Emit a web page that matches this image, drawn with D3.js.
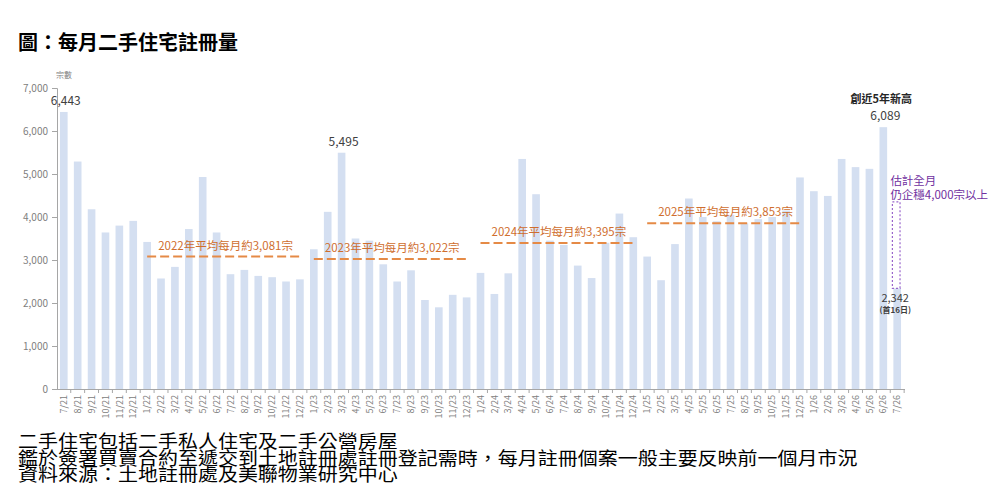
<!DOCTYPE html>
<html>
<head>
<meta charset="utf-8">
<script src="https://cdn.jsdelivr.net/npm/d3@7"></script>
<style>
	body { margin: 0; background: #fff; }
	text { font-family: "Noto Sans CJK TC", "Noto Sans", sans-serif; }
</style>
</head>
<body>
<script>
// monthly registrations (宗數)
const months = [
	"7/21","8/21","9/21","10/21","11/21","12/21",
	"1/22","2/22","3/22","4/22","5/22","6/22","7/22","8/22","9/22","10/22","11/22","12/22",
	"1/23","2/23","3/23","4/23","5/23","6/23","7/23","8/23","9/23","10/23","11/23","12/23",
	"1/24","2/24","3/24","4/24","5/24","6/24","7/24","8/24","9/24","10/24","11/24","12/24",
	"1/25","2/25","3/25","4/25","5/25","6/25","7/25","8/25","9/25","10/25","11/25","12/25",
	"1/26","2/26","3/26","4/26","5/26","6/26","7/26"
];
const counts = [
	6443, 5290, 4180, 3640, 3800, 3910,
	3420, 2570, 2840, 3720, 4930, 3640, 2670, 2770, 2630, 2600, 2500, 2550,
	3250, 4120, 5495, 3500, 3450, 2900, 2500, 2760, 2070, 1900, 2190, 2130,
	2700, 2210, 2690, 5350, 4530, 3450, 3350, 2870, 2580, 3400, 4080, 3530,
	3080, 2530, 3370, 4430, 4000, 3900, 4050, 3850, 3950, 4000, 4150, 4920,
	4600, 4490, 5350, 5160, 5120, 6089, 2342
];
const yTicks = [0, 1000, 2000, 3000, 4000, 5000, 6000, 7000];

// yearly averages
const avgYears = ["2022", "2023", "2024", "2025"];
const avgValues = [3081, 3022, 3395, 3853];
const avgFrom = ["1/22", "1/23", "1/24", "1/25"];
const avgTo = ["12/22", "12/23", "12/24", "12/25"];

// labelled bars
const labelled = ["7/21", "3/23", "6/26"];
const estimateFull = 4350;

const footnotes = [
	"二手住宅包括二手私人住宅及二手公營房屋",
	"鑑於簽署買賣合約至遞交到土地註冊處註冊登記需時，每月註冊個案一般主要反映前一個月市況",
	"資料來源：土地註冊處及美聯物業研究中心"
];

const W = 1002, H = 501;
const svg = d3.select("body").append("svg")
	.attr("width", W)
	.attr("height", H)
	.style("background-color", "white");

svg.append("text")
	.attr("x", 18)
	.attr("y", 50)
	.attr("font-size", 20)
	.attr("font-weight", "bold")
	.attr("fill", "#000")
	.text("圖：每月二手住宅註冊量");

const x = d3.scaleBand()
	.domain(months)
	.range([56.5, 904.5])
	.paddingInner(0.45)
	.paddingOuter(0.25);

const y = d3.scaleLinear()
	.domain([0, 7000])
	.range([389, 88]);

const grey = "#808080";

// bars
svg.append("g").selectAll("rect")
	.data(months)
	.join("rect")
	.attr("x", d => x(d))
	.attr("width", x.bandwidth())
	.attr("y", (d, i) => y(counts[i]))
	.attr("height", (d, i) => y(0) - y(counts[i]))
	.attr("fill", "#D4DFF1");

// y axis
const yAxis = svg.append("g")
	.attr("transform", "translate(57,0)")
	.call(d3.axisLeft(y).tickValues(yTicks).tickFormat(d3.format(",")).tickSize(5).tickSizeOuter(5));
yAxis.select(".domain").attr("stroke", "#a6a6a6");
yAxis.selectAll(".tick line").attr("stroke", "#a6a6a6");
yAxis.selectAll(".tick text")
	.attr("fill", grey)
	.attr("font-size", 10)
	.attr("font-family", "Liberation Sans, Arial, sans-serif")
	.attr("x", -9);

svg.append("text")
	.attr("x", 64)
	.attr("y", 78)
	.attr("text-anchor", "middle")
	.attr("font-size", 8)
	.attr("fill", grey)
	.text("宗數");

// x axis
const xAxis = svg.append("g")
	.attr("transform", `translate(0,${y(0)})`)
	.call(d3.axisBottom(x).tickSize(4).tickSizeOuter(0));
xAxis.select(".domain").attr("stroke", "#a6a6a6");
xAxis.selectAll(".tick line")
	.attr("stroke", "#a6a6a6")
	.attr("transform", `translate(${x.step() / 2},0)`);
xAxis.selectAll(".tick text")
	.attr("fill", grey)
	.attr("font-size", 9)
	.attr("font-family", "Liberation Sans, Arial, sans-serif")
	.attr("transform", "rotate(-90)")
	.attr("x", -6)
	.attr("y", 0)
	.attr("dy", "0.35em")
	.attr("text-anchor", "end");

// averages
const orange = "#E58A46";
avgYears.forEach((yr, i) => {
	const x0 = x(avgFrom[i]) + x.bandwidth() / 2;
	const x1 = x(avgTo[i]) + x.bandwidth() / 2;
	svg.append("line")
		.attr("x1", x0)
		.attr("x2", x1)
		.attr("y1", y(avgValues[i]))
		.attr("y2", y(avgValues[i]))
		.attr("stroke", orange)
		.attr("stroke-width", 2)
		.attr("stroke-dasharray", "9,4");
	svg.append("text")
		.attr("x", (x0 + x1) / 2 + 2)
		.attr("y", y(avgValues[i]) - 7)
		.attr("text-anchor", "middle")
		.attr("font-size", 11.5)
		.attr("fill", "#CF6E2E")
		.text(`${yr}年平均每月約${d3.format(",")(avgValues[i])}宗`);
});

// value labels
labelled.forEach(m => {
	const i = months.indexOf(m);
	svg.append("text")
		.attr("x", x(m) + x.bandwidth() / 2 + 2)
		.attr("y", y(counts[i]) - 7)
		.attr("text-anchor", "middle")
		.attr("font-size", 12)
		.attr("fill", "#404040")
		.text(d3.format(",")(counts[i]));
});

const m6 = "6/26";
svg.append("text")
	.attr("x", x(m6) + x.bandwidth() / 2 - 2)
	.attr("y", y(counts[months.indexOf(m6)]) - 24)
	.attr("text-anchor", "middle")
	.attr("font-size", 11)
	.attr("font-weight", "bold")
	.attr("fill", "#262626")
	.text("創近5年新高");

// latest month estimate
const last = months[months.length - 1];
const lx = x(last);
const purple = "#7030A0";
svg.append("rect")
	.attr("x", lx - 1)
	.attr("y", y(estimateFull))
	.attr("width", x.bandwidth())
	.attr("height", y(counts[counts.length - 1]) - y(estimateFull))
	.attr("fill", "none")
	.attr("stroke", "#9966CC")
	.attr("stroke-width", 1.2)
	.attr("stroke-dasharray", "2,2");
svg.append("text")
	.attr("x", lx - 3)
	.attr("y", y(estimateFull) - 17)
	.attr("font-size", 11.5)
	.attr("fill", purple)
	.text("估計全月");
svg.append("text")
	.attr("x", lx - 3)
	.attr("y", y(estimateFull) - 3)
	.attr("font-size", 11.5)
	.attr("fill", purple)
	.text("仍企穩4,000宗以上");
svg.append("text")
	.attr("x", lx + x.bandwidth() / 2 - 2)
	.attr("y", y(counts[counts.length - 1]) + 14)
	.attr("text-anchor", "middle")
	.attr("font-size", 11)
	.attr("fill", "#404040")
	.text(d3.format(",")(counts[counts.length - 1]));
svg.append("text")
	.attr("x", lx + x.bandwidth() / 2 - 2)
	.attr("y", y(counts[counts.length - 1]) + 25)
	.attr("text-anchor", "middle")
	.attr("font-size", 8)
	.attr("font-weight", "bold")
	.attr("fill", "#404040")
	.text("(首16日)");

// footnotes (lines sit tightly packed, as in the source)
svg.append("g").selectAll("text")
	.data(footnotes)
	.join("text")
	.attr("transform", (d, i) => `translate(18,${448 + i * 16.5}) scale(1,0.9)`)
	.attr("font-size", 20)
	.attr("fill", "#000")
	.text(d => d);
</script>
</body>
</html>
